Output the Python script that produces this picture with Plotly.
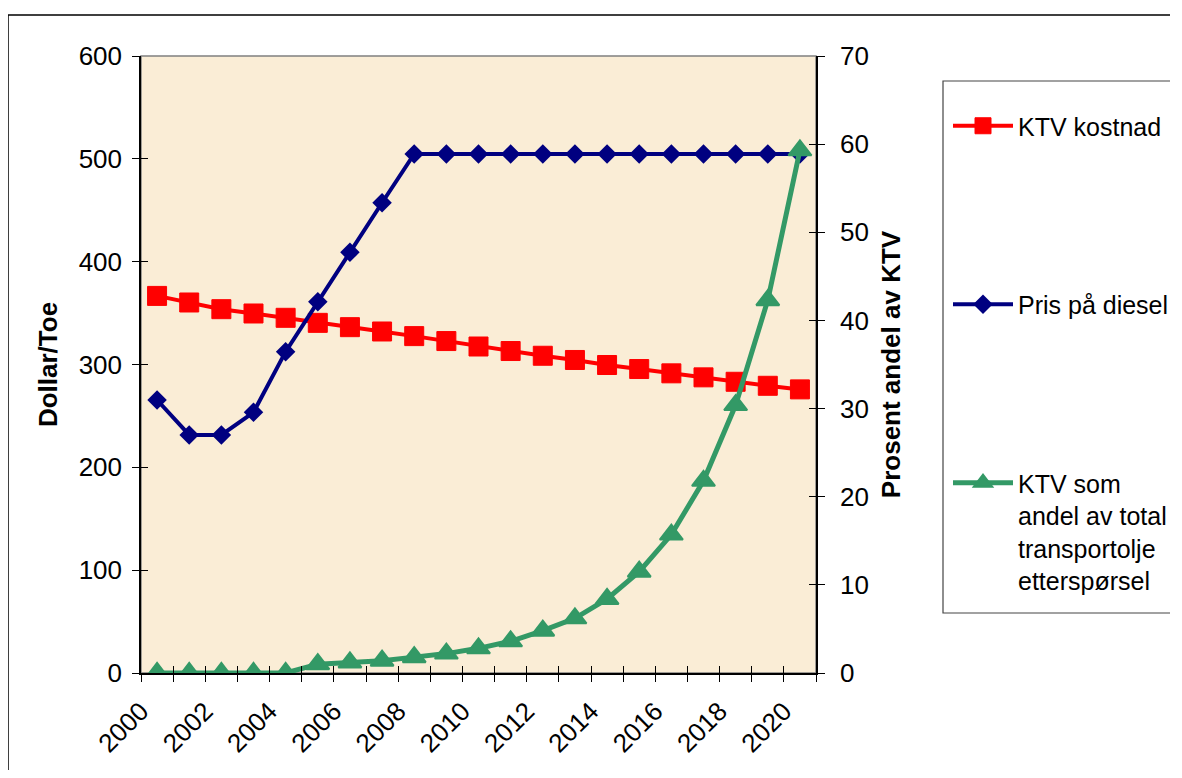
import plotly.graph_objects as go

years = list(range(2000, 2021))
ktv_kostnad = [366.7, 360.3, 353.8, 349.6, 345.4, 340.5, 336.3, 332.1, 327.6, 322.8, 317.5,
               313.1, 308.5, 304.4, 299.5, 295.6, 291.4, 287.5, 283.2, 279.3, 275.8]
pris_diesel = [265.5, 231.5, 231.5, 253.5, 312.5, 361.1, 409.1, 457.3, 504.7, 504.7, 504.7,
               504.7, 504.7, 504.7, 504.7, 504.7, 504.7, 504.7, 504.7, 504.7, 504.7]
ktv_andel = [0, 0, 0, 0, 0, 1.0, 1.2, 1.4, 1.8, 2.2, 2.8,
             3.6, 4.8, 6.2, 8.4, 11.5, 15.7, 21.8, 30.4, 42.3, 59.3]
tick_years = list(range(2000, 2021, 2))
tick_labels = [str(y) for y in tick_years]
boundaries = [y - 0.5 for y in years] + [years[-1] + 0.5]

FONT = "Liberation Sans, Arial, sans-serif"
OFF = 8  # page body margin
W, H = 1162, 778 - 2 * OFF
# target plot area in page pixels: x 141-816, y 56-673
L = 141 - OFF
T = 56 - OFF
R = W - (816 - OFF)
B = H - (673 - OFF)
PW, PH = W - L - R, H - T - B


def px(x):
    return (x - OFF - L) / PW


def py(y):
    return (H - B - (y - OFF)) / PH


def open_box(x0, y0, x1, y1):
    # box whose right side lies outside the picture: draw top, left, bottom only
    return (f"M {px(x1)},{py(y0)} L {px(x0)},{py(y0)} "
            f"L {px(x0)},{py(y1)} L {px(x1)},{py(y1)}")


fig = go.Figure()
fig.add_trace(go.Scatter(x=years, y=ktv_kostnad, name="KTV kostnad", mode="lines+markers",
                         line=dict(color="#FF0000", width=4),
                         marker=dict(symbol="square", size=19, color="#FF0000",
                                     line=dict(color="#FF0000", width=1)),
                         legendgroup="a"))
fig.add_trace(go.Scatter(x=years, y=pris_diesel, name="Pris på diesel", mode="lines+markers",
                         line=dict(color="#000080", width=4),
                         marker=dict(symbol="diamond", size=15, color="#000080"),
                         legendgroup="b"))
fig.add_trace(go.Scatter(x=years, y=ktv_andel, yaxis="y2",
                         name="KTV som<br>andel av total<br>transportolje<br>etterspørsel",
                         mode="lines+markers",
                         line=dict(color="#339966", width=5),
                         marker=dict(symbol="triangle-up", size=20, color="#339966",
                                     line=dict(color="#339966", width=2)),
                         legendgroup="c"))
# empty helper traces so the inner-tick overlay axes are drawn
fig.add_trace(go.Scatter(x=[None], y=[None], xaxis="x2", yaxis="y3", showlegend=False,
                         hoverinfo="skip"))
fig.add_trace(go.Scatter(x=[None], y=[None], xaxis="x2", yaxis="y4", showlegend=False,
                         hoverinfo="skip"))

fig.update_layout(
    width=W, height=H,
    margin=dict(l=L, r=R, t=T, b=B, autoexpand=False),
    paper_bgcolor="white",
    plot_bgcolor="#FAEDD6",
    font=dict(family=FONT, size=26, color="black"),
    xaxis=dict(range=[1999.5, 2020.5], tickvals=tick_years, ticktext=tick_labels,
               tickangle=-45, ticks="", showgrid=False, zeroline=False,
               showline=True, linecolor="black", linewidth=1.5, automargin=False,
               ticklabelshift=-16, ticklabelstandoff=11,
               minor=dict(tickvals=boundaries, ticks="outside",
                          ticklen=7, tickcolor="black", tickwidth=1, showgrid=False),
               tickfont=dict(size=26)),
    xaxis2=dict(range=[1999.5, 2020.5], overlaying="x", tickvals=boundaries, ticks="inside",
                ticklen=7, tickcolor="black", showticklabels=False, showgrid=False,
                zeroline=False, showline=False, automargin=False),
    yaxis=dict(range=[0, 600], dtick=100, ticks="outside", ticklen=7, tickcolor="black",
               showgrid=False, zeroline=False, showline=True, linecolor="black", linewidth=1.5,
               ticklabelstandoff=5, automargin=False,
               title=dict(text="Dollar/Toe", font=dict(size=26, weight="bold"), standoff=14)),
    yaxis2=dict(range=[0, 70], dtick=10, overlaying="y", side="right", ticks="outside",
                ticklen=7, tickcolor="black", showgrid=False, zeroline=False,
                showline=True, linecolor="black", linewidth=1.5, ticklabelstandoff=10,
                automargin=False,
                title=dict(text="Prosent andel av KTV", font=dict(size=26, weight="bold"),
                           standoff=14)),
    yaxis3=dict(range=[0, 600], dtick=100, overlaying="y", side="left", ticks="inside",
                ticklen=7, tickcolor="black", showticklabels=False, showgrid=False,
                zeroline=False, showline=False, automargin=False),
    yaxis4=dict(range=[0, 70], dtick=10, overlaying="y", side="right", ticks="inside",
                ticklen=7, tickcolor="black", showticklabels=False, showgrid=False,
                zeroline=False, showline=False, automargin=False),
    legend=dict(x=px(948), y=py(103), xanchor="left", yanchor="top",
                bgcolor="rgba(0,0,0,0)", borderwidth=0, tracegroupgap=143,
                itemwidth=60, valign="top", font=dict(size=25)),
    showlegend=True,
    shapes=[
        dict(type="rect", xref="paper", yref="paper", x0=0, x1=1, y0=0, y1=1,
             line=dict(color="#808080", width=1.5), layer="below"),
        dict(type="path", xref="paper", yref="paper", path=open_box(943, 81, 1200, 613),
             line=dict(color="#444444", width=1.2)),
        dict(type="path", xref="paper", yref="paper", path=open_box(8, 15, 1200, 800),
             line=dict(color="black", width=1.5)),
    ],
)

fig.write_html("out.html")
